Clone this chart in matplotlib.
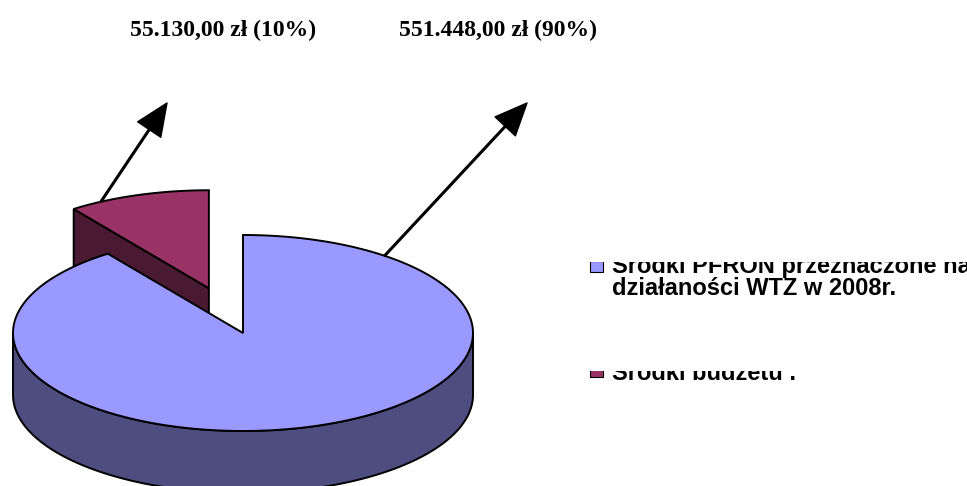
import numpy as np
import matplotlib.pyplot as plt
from matplotlib.patches import Polygon, Rectangle
from matplotlib.transforms import Bbox

# chart data
amounts = [551448.00, 55130.00]
shares = [90, 10]                 # percent, as printed on the chart
labels = ["Środki PFRON przeznaczone na", "działaności WTZ w 2008r."]
labels2 = ["Środki budżetu ."]
top_colors = ["#9999FF", "#993366"]
side_colors = ["#4D4D80", "#4A1A33"]
explode = [0.0, 0.48]

W, H = 967, 486

# geometry of the 3d pie, in pixels
cx, cy = 243.0, 333.0
rx, ry = 230.0, 98.0
depth = 62.0


def rad( th ) :
    return np.asarray( th, dtype=float ) * np.pi / 180.0


def money( v, p ) :
    s = "{:,.2f}".format( v ).replace( ",", " " ).replace( ".", "," ).replace( " ", "." )
    return "%s zł (%d%%)" % ( s, p )


def pt( th, r=1.0, off=( 0.0, 0.0 ) ) :
    t = rad( th )
    return ( cx + off[0] + r * rx * np.cos( t ), cy + off[1] - r * ry * np.sin( t ) )


def drawSlice( ax, a, b, off, ctop, cside, z ) :
    # visible outer wall : angles with sin < 0
    for k in range( -2, 3 ) :
        lo = max( a, 180 + 360 * k )
        hi = min( b, 360 + 360 * k )
        if hi > lo :
            th = np.linspace( lo, hi, 120 )
            x, y = pt( th, off=off )
            xs = np.concatenate( [x, x[::-1]] )
            ys = np.concatenate( [y, y[::-1] + depth] )
            ax.add_patch( Polygon( np.column_stack( [xs, ys] ), closed=True,
                    fc=cside, ec="black", lw=1.4, zorder=z ) )
    # radial cut faces that look towards the viewer
    for edge, nrm in ( ( a, a - 90 ), ( b, b + 90 ) ) :
        if np.sin( rad( nrm ) ) < -1e-6 :
            x0, y0 = pt( 0, r=0.0, off=off )
            x1, y1 = pt( edge, off=off )
            poly = [( x0, y0 ), ( x1, y1 ), ( x1, y1 + depth ), ( x0, y0 + depth )]
            ax.add_patch( Polygon( poly, closed=True, fc=cside, ec="black",
                    lw=1.4, zorder=z ) )
    th = np.linspace( a, b, 200 )
    x, y = pt( th, off=off )
    x0, y0 = pt( 0, r=0.0, off=off )
    xs = np.concatenate( [[x0], x] )
    ys = np.concatenate( [[y0], y] )
    ax.add_patch( Polygon( np.column_stack( [xs, ys] ), closed=True,
            fc=ctop, ec="black", lw=1.4, zorder=z + 0.5 ) )


def pixbox( x0, y0, x1, y1 ) :
    # box in picture pixels (top-left origin) -> display coordinates
    return Bbox.from_extents( x0, H - y1, x1, H - y0 )


fig = plt.figure( figsize=( W / 100.0, H / 100.0 ), dpi=100 )
ax = fig.add_axes( [0, 0, 1, 1] )
ax.set_xlim( 0, W )
ax.set_ylim( H, 0 )
ax.axis( "off" )

total = float( sum( shares ) )
start = 90.0
offsets = []
spans = []
for k, p in enumerate( shares ) :
    sweep = 360.0 * p / total
    a, b = start - sweep, start
    start = a
    mid = 0.5 * ( a + b )
    off = ( explode[k] * rx * np.cos( rad( mid ) ),
            -explode[k] * ry * np.sin( rad( mid ) ) )
    offsets.append( off )
    spans.append( ( a, b ) )

# back slice first
for k in reversed( range( len( shares ) ) ) :
    a, b = spans[k]
    drawSlice( ax, a, b, offsets[k], top_colors[k], side_colors[k], 2 * ( len( shares ) - k ) )

# callouts with arrows
callout_angle = [52.0, 118.0]
tips = [( 527, 103 ), ( 167, 103 )]
title_x = [498, 223]
for k, v in enumerate( amounts ) :
    tail = pt( callout_angle[k], off=offsets[k] )
    ax.annotate( "", xy=tips[k], xytext=tail, zorder=10,
            arrowprops=dict( facecolor="black", edgecolor="black", width=1.2,
                             headwidth=20, headlength=23, shrink=0.0 ) )
    ax.text( title_x[k], 30, money( v, shares[k] ), ha="center", va="center",
            fontsize=17, fontweight="bold", family="Liberation Serif" )

# legend (partly hidden as in the original)
clip1 = pixbox( 560, 262, W, 312 )
clip2 = pixbox( 560, 371, W, 382 )

m1 = Rectangle( ( 590, 261 ), 13, 11, fc=top_colors[0], ec="black", lw=0.8, zorder=5 )
ax.add_patch( m1 )
m1.set_clip_box( clip1 )
for i, line in enumerate( labels ) :
    t = ax.text( 612, 273 + 22 * i, line, ha="left", va="baseline", fontsize=17,
            fontweight="bold", family="Liberation Sans" )
    t.set_clip_box( clip1 )
    t.set_clip_on( True )

m2 = Rectangle( ( 590, 366 ), 13, 11, fc=top_colors[1], ec="black", lw=0.8, zorder=5 )
ax.add_patch( m2 )
m2.set_clip_box( clip2 )
t = ax.text( 612, 380, labels2[0], ha="left", va="baseline", fontsize=17,
        fontweight="bold", family="Liberation Sans" )
t.set_clip_box( clip2 )
t.set_clip_on( True )

fig.savefig( "out.png", dpi=100 )
